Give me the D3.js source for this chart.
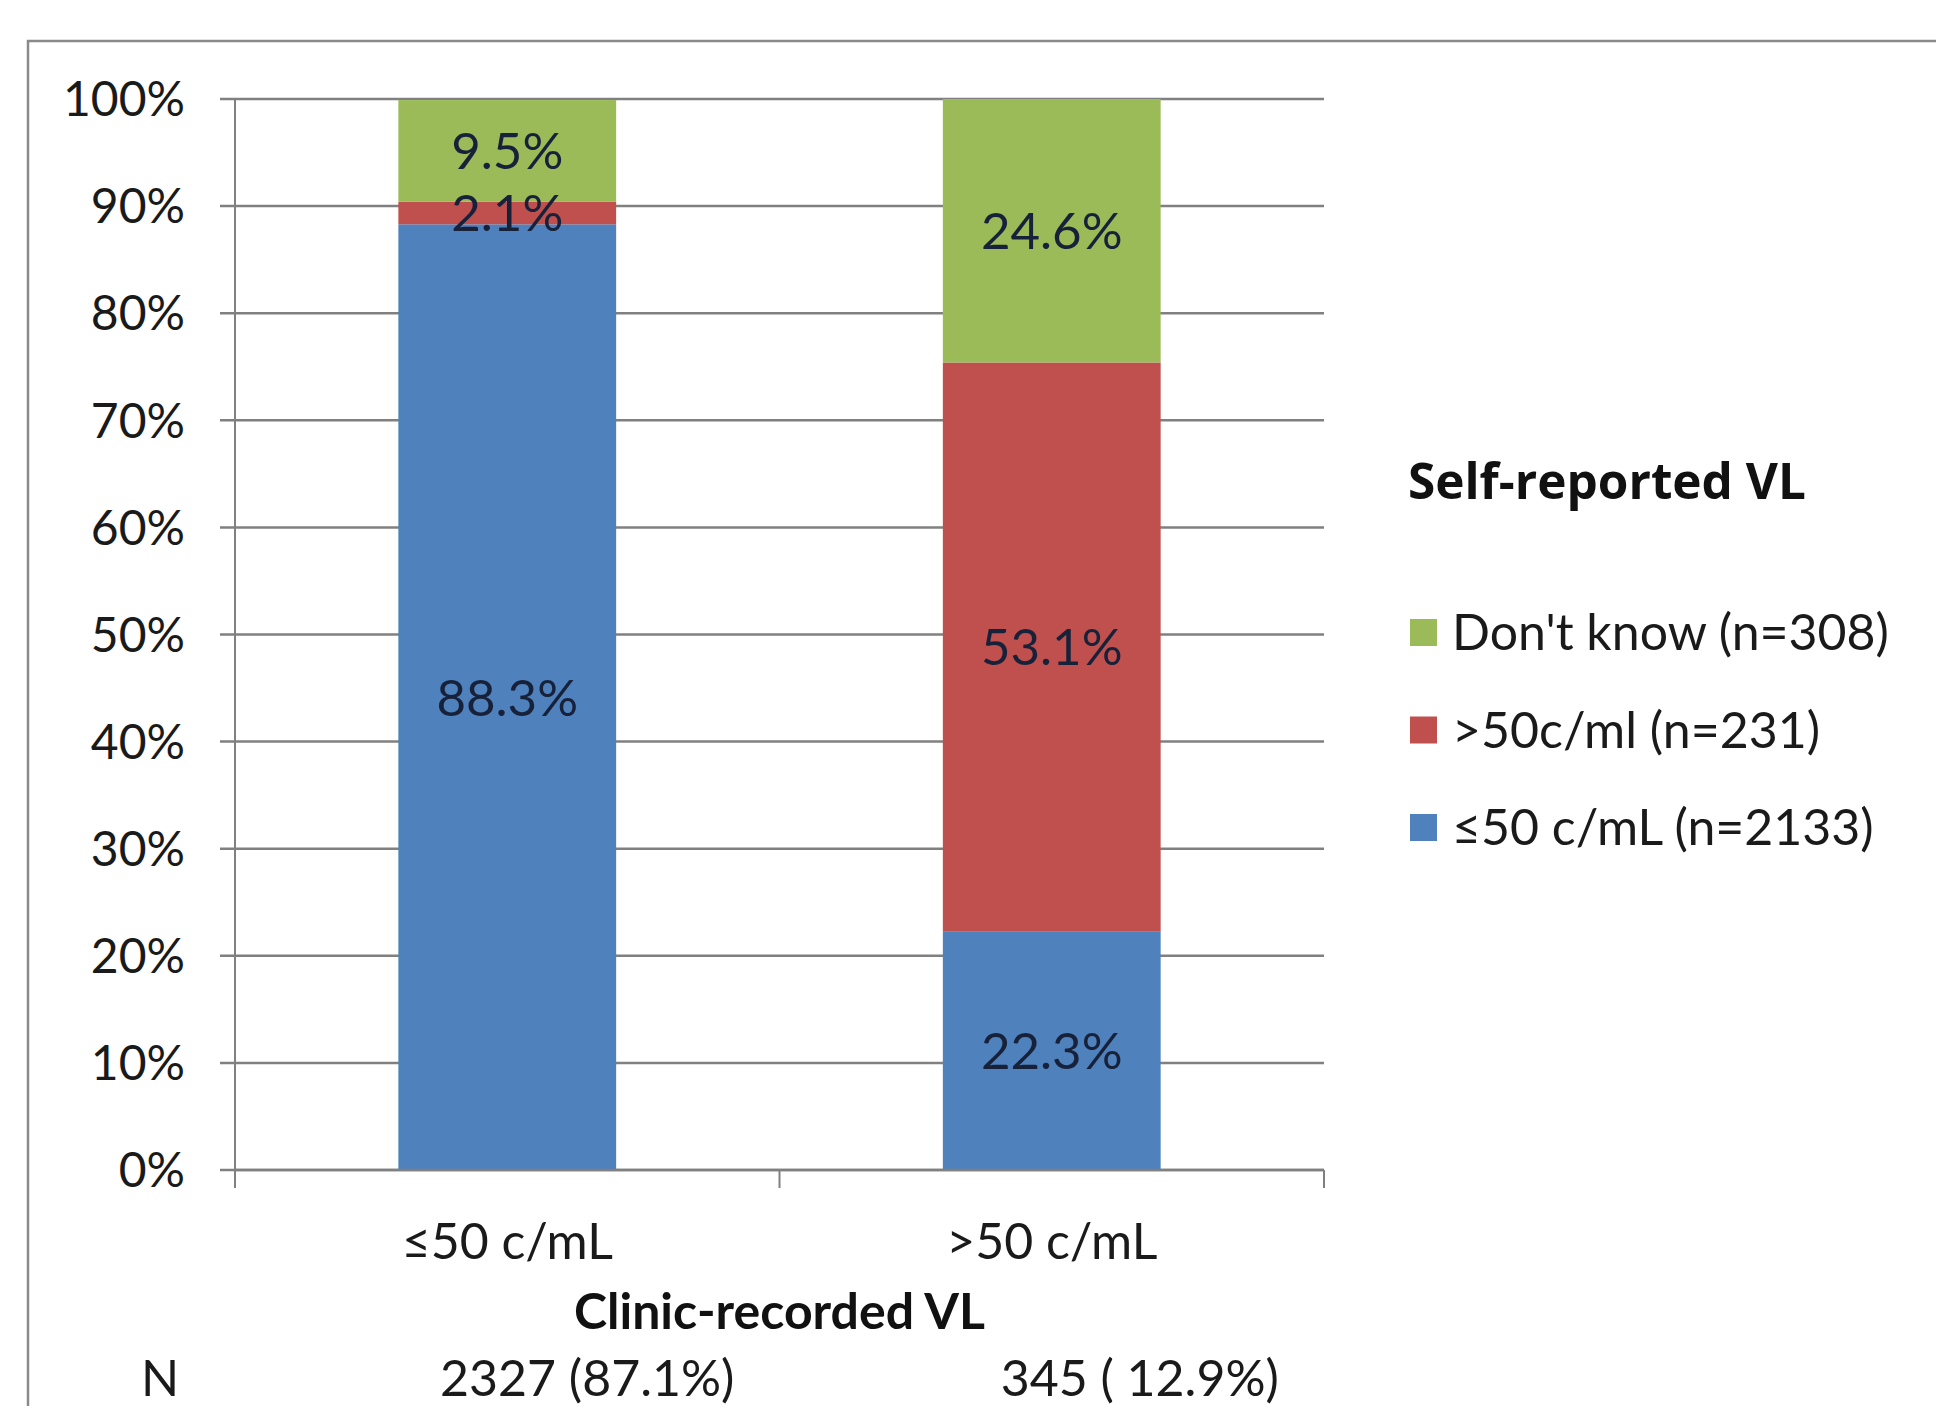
<!DOCTYPE html>
<html><head><meta charset="utf-8">
<script src="https://cdn.jsdelivr.net/npm/d3@7"></script>
<style>html,body{margin:0;padding:0;background:#fff;} svg{display:block;}</style>
</head><body>
<script>
const categories = ["≤50 c/mL", ">50 c/mL"];
const nLabels = ["2327 (87.1%)", "345 ( 12.9%)"];
const seriesNames = ["≤50 c/mL (n=2133)", ">50c/ml (n=231)", "Don't know (n=308)"];
const seriesColors = ["#4F81BD", "#C0504D", "#9BBB59"];
const lowValues = [88.3, 22.3];
const highValues = [2.1, 53.1];
const dontKnowValues = [9.5, 24.6];
const yTicks = [0,10,20,30,40,50,60,70,80,90,100];
const xTitle = "Clinic-recorded VL";
const legendTitle = "Self-reported VL";

(function () {
const W = 1936, H = 1406;
const font = "Lato, 'Open Sans', sans-serif";
const svg = d3.select("body").append("svg").attr("width", W).attr("height", H);

svg.append("rect").attr("x", 28).attr("y", 41).attr("width", 2000).attr("height", 2000)
  .attr("fill", "#fff").attr("stroke", "#8a8a8a").attr("stroke-width", 2.5);

const pLeft = 235, pRight = 1324, pTop = 99, pBottom = 1170;
const x = d3.scaleBand().domain(categories).range([pLeft, pRight]).paddingInner(0.6).paddingOuter(0.3);
const y = d3.scaleLinear().domain([0, 100]).range([pBottom, pTop]);

svg.append("g").selectAll("line").data(yTicks).join("line")
  .attr("x1", pLeft - 15).attr("x2", pRight).attr("y1", d => y(d)).attr("y2", d => y(d))
  .attr("stroke", "#808080").attr("stroke-width", 2.5);

svg.append("line").attr("x1", pLeft).attr("x2", pLeft).attr("y1", pTop).attr("y2", pBottom)
  .attr("stroke", "#808080").attr("stroke-width", 2);

svg.append("g").selectAll("text").data(yTicks).join("text")
  .attr("x", pLeft - 50).attr("y", d => y(d)).attr("dy", "0.36em")
  .attr("text-anchor", "end").attr("font-family", font).attr("font-size", 48)
  .attr("fill", "#1a1a1a").text(d => d + "%");

const rows = categories.map((c, i) => ({cat: c, s0: lowValues[i], s1: highValues[i], s2: dontKnowValues[i]}));
const stack = d3.stack().keys(["s0", "s1", "s2"])(rows);

const g = svg.append("g");
stack.forEach((layer, li) => {
  g.selectAll(null).data(layer).join("rect")
    .attr("x", d => x(d.data.cat)).attr("width", x.bandwidth())
    .attr("y", d => y(d[1])).attr("height", d => y(d[0]) - y(d[1]))
    .attr("fill", seriesColors[li]);
});
stack.forEach((layer, li) => {
  g.selectAll(null).data(layer).join("text")
    .attr("x", d => x(d.data.cat) + x.bandwidth() / 2)
    .attr("y", d => y((d[0] + d[1]) / 2)).attr("dy", "0.36em")
    .attr("text-anchor", "middle").attr("font-family", font).attr("font-size", 51)
    .attr("fill", "#17223a").text(d => (d[1] - d[0]).toFixed(1) + "%");
});

svg.append("line").attr("x1", pLeft).attr("x2", pRight).attr("y1", pBottom).attr("y2", pBottom)
  .attr("stroke", "#808080").attr("stroke-width", 2.5);
const boundaries = d3.range(categories.length + 1).map(i => pLeft + i * (pRight - pLeft) / categories.length);
svg.append("g").selectAll("line").data(boundaries).join("line")
  .attr("x1", d => d).attr("x2", d => d).attr("y1", pBottom).attr("y2", pBottom + 18)
  .attr("stroke", "#808080").attr("stroke-width", 2);

svg.append("g").selectAll("text").data(categories).join("text")
  .attr("x", d => x(d) + x.bandwidth() / 2).attr("y", 1259)
  .attr("text-anchor", "middle").attr("font-family", font).attr("font-size", 50)
  .attr("fill", "#1a1a1a").text(d => d);

svg.append("text").attr("x", (pLeft + pRight) / 2).attr("y", 1329)
  .attr("text-anchor", "middle").attr("font-family", font).attr("font-size", 50)
  .attr("font-weight", "bold").attr("fill", "#111").text(xTitle);

svg.append("text").attr("x", 160).attr("y", 1396).attr("text-anchor", "middle")
  .attr("font-family", font).attr("font-size", 50).attr("fill", "#1a1a1a").text("N");
svg.append("g").selectAll("text").data(nLabels).join("text")
  .attr("x", (d, i) => x(categories[i]) + x.bandwidth() / 2 + 80 + i * 8).attr("y", 1396)
  .attr("text-anchor", "middle").attr("font-family", font).attr("font-size", 50)
  .attr("fill", "#1a1a1a").text(d => d);

const lx = 1410;
svg.append("text").attr("x", lx - 2).attr("y", 499).attr("font-family", "'Open Sans', Lato, sans-serif")
  .attr("font-size", 49.5).attr("font-weight", "bold").attr("fill", "#111").text(legendTitle);
const legendOrder = [2, 1, 0];
const lg = svg.append("g").selectAll("g").data(legendOrder).join("g")
  .attr("transform", (d, i) => `translate(${lx},${632 + i * 97.5})`);
lg.append("rect").attr("x", 0).attr("y", -13).attr("width", 27).attr("height", 27)
  .attr("fill", d => seriesColors[d]);
lg.append("text").attr("x", 42).attr("y", 0).attr("dy", "0.36em")
  .attr("font-family", font).attr("font-size", 50).attr("fill", "#1a1a1a")
  .text(d => seriesNames[d]);
})();
</script>
</body></html>
